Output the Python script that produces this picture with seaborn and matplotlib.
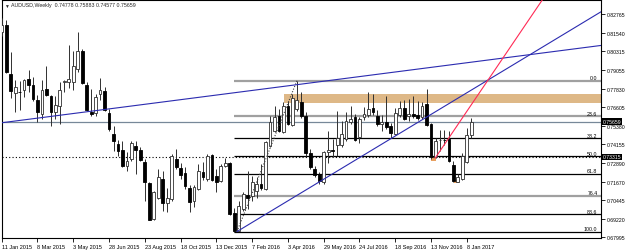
import numpy as np
import pandas as pd
import matplotlib
matplotlib.use('Agg')
import matplotlib.pyplot as plt
from matplotlib.patches import Rectangle
import seaborn as sns

# weekly AUDUSD bars, first bar = week of 11 Jan 2015
opens = [0.8160, 0.8205, 0.7881, 0.7755, 0.7764, 0.7775, 0.7848, 0.7808, 0.7709, 0.7616,
         0.7782, 0.7737, 0.7631, 0.7667, 0.7829, 0.7826, 0.7828, 0.7914, 0.8035, 0.7808,
         0.7631, 0.7623, 0.7748, 0.7768, 0.7623, 0.7484, 0.7417, 0.7380, 0.7274, 0.7318,
         0.7406, 0.7378, 0.7300, 0.7159, 0.6921, 0.7058, 0.7186, 0.7027, 0.7053, 0.7318,
         0.7257, 0.7225, 0.7126, 0.7042, 0.7120, 0.7234, 0.7186, 0.7345, 0.7208, 0.7174,
         0.7270, 0.7292, 0.6961, 0.6843, 0.6987, 0.7082, 0.7075, 0.7108, 0.7153, 0.7120,
         0.7402, 0.7505, 0.7601, 0.7499, 0.7667, 0.7543, 0.7649, 0.7693, 0.7601, 0.7358,
         0.7252, 0.7219, 0.7164, 0.7366, 0.7378, 0.7411, 0.7411, 0.7451, 0.7561, 0.7598,
         0.7462, 0.7594, 0.7609, 0.7654, 0.7601, 0.7550, 0.7565, 0.7537, 0.7484, 0.7609,
         0.7654, 0.7601, 0.7616, 0.7609, 0.7594, 0.7682, 0.7550, 0.7329, 0.7442, 0.7447,
         0.7451, 0.7278, 0.7168, 0.7186, 0.7296, 0.74778]
highs = [0.8250, 0.8240, 0.8024, 0.7841, 0.7836, 0.7846, 0.7909, 0.7861, 0.7742, 0.7843,
         0.7936, 0.7742, 0.7737, 0.7826, 0.7843, 0.8073, 0.8035, 0.8157, 0.8046, 0.7828,
         0.7782, 0.7748, 0.7852, 0.7793, 0.7649, 0.7535, 0.7446, 0.7439, 0.7366, 0.7439,
         0.7439, 0.7396, 0.7318, 0.7166, 0.7108, 0.7252, 0.7241, 0.7124, 0.7351, 0.7384,
         0.7292, 0.7263, 0.7146, 0.7146, 0.7285, 0.7296, 0.7351, 0.7351, 0.7252, 0.7285,
         0.7323, 0.7298, 0.6994, 0.7040, 0.7102, 0.7241, 0.7208, 0.7197, 0.7285, 0.7439,
         0.7605, 0.7671, 0.7649, 0.7693, 0.7704, 0.7748, 0.7836, 0.7764, 0.7629, 0.7384,
         0.7274, 0.7232, 0.7373, 0.7505, 0.7451, 0.7638, 0.7572, 0.7631, 0.7671, 0.7616,
         0.7594, 0.7660, 0.7760, 0.7748, 0.7642, 0.7609, 0.7733, 0.7557, 0.7654, 0.7704,
         0.7711, 0.7715, 0.7733, 0.7704, 0.7698, 0.7782, 0.7557, 0.7455, 0.7512, 0.7510,
         0.7503, 0.7307, 0.7219, 0.7358, 0.7521, 0.75883]
lows = [0.8130, 0.7887, 0.7720, 0.7629, 0.7644, 0.7729, 0.7762, 0.7704, 0.7561, 0.7583,
        0.7733, 0.7535, 0.7583, 0.7550, 0.7760, 0.7786, 0.7775, 0.7894, 0.7815, 0.7636,
        0.7606, 0.7601, 0.7711, 0.7638, 0.7505, 0.7373, 0.7340, 0.7268, 0.7241, 0.7305,
        0.7219, 0.7305, 0.7042, 0.6912, 0.6916, 0.7050, 0.6976, 0.6967, 0.7042, 0.7252,
        0.7186, 0.7120, 0.6969, 0.7002, 0.7113, 0.7179, 0.7173, 0.7173, 0.7102, 0.7166,
        0.7263, 0.6947, 0.6837, 0.6841, 0.6974, 0.6987, 0.7042, 0.7058, 0.7113, 0.7113,
        0.7396, 0.7499, 0.7497, 0.7490, 0.7543, 0.7537, 0.7638, 0.7590, 0.7340, 0.7252,
        0.7199, 0.7153, 0.7153, 0.7292, 0.7331, 0.7340, 0.7398, 0.7437, 0.7550, 0.7437,
        0.7424, 0.7576, 0.7594, 0.7609, 0.7537, 0.7505, 0.7517, 0.7455, 0.7477, 0.7596,
        0.7576, 0.7572, 0.7590, 0.7576, 0.7583, 0.7537, 0.7318, 0.7323, 0.7373, 0.7411,
        0.7300, 0.7164, 0.7166, 0.7179, 0.7292, 0.74577]
closes = [0.8205, 0.7896, 0.7770, 0.7793, 0.7760, 0.7841, 0.7808, 0.7715, 0.7627, 0.7775,
          0.7744, 0.7627, 0.7676, 0.7775, 0.7833, 0.7848, 0.7932, 0.8031, 0.7821, 0.7642,
          0.7616, 0.7727, 0.7777, 0.7644, 0.7517, 0.7439, 0.7373, 0.7274, 0.7307, 0.7424,
          0.7380, 0.7314, 0.7168, 0.6916, 0.7098, 0.7197, 0.7027, 0.7058, 0.7340, 0.7263,
          0.7212, 0.7137, 0.7035, 0.7133, 0.7241, 0.7197, 0.7340, 0.7181, 0.7168, 0.7274,
          0.7292, 0.6954, 0.6843, 0.7005, 0.7086, 0.7058, 0.7164, 0.7153, 0.7124, 0.7433,
          0.7561, 0.7594, 0.7505, 0.7671, 0.7550, 0.7720, 0.7711, 0.7601, 0.7358, 0.7263,
          0.7214, 0.7174, 0.7366, 0.7378, 0.7372, 0.7455, 0.7484, 0.7572, 0.7583, 0.7444,
          0.7583, 0.7616, 0.7649, 0.7627, 0.7550, 0.7565, 0.7533, 0.7490, 0.7621, 0.7654,
          0.7583, 0.7616, 0.7601, 0.7588, 0.7671, 0.7543, 0.7329, 0.7439, 0.7446, 0.7441,
          0.7307, 0.7174, 0.7197, 0.7340, 0.7480, 0.75659]

# price scale labels on the right (as shown by the terminal)
price_ticks = [0.82765, 0.81540, 0.80315, 0.79055, 0.77830, 0.76605, 0.75380,
               0.74155, 0.72890, 0.71670, 0.70445, 0.69220, 0.67995]
bid_price = 0.75659
level_price = 0.73315

# fibonacci retracement: Jan 2016 low -> Apr 2016 high
fib_low, fib_high = 0.6837, 0.7836
fib_low_bar, fib_high_bar = 52.6, 66.0
fib_ratios = [0.0, 23.6, 38.2, 50.0, 61.8, 76.4, 88.6, 100.0]

# hand-drawn objects (bar index, price)
upper_trend = [(0.0, 0.7558), (134.0, 0.8070)]
lower_trend = [(52.6, 0.6837), (134.0, 0.8293)]
red_trend = [(96.9, 0.7323), (125.0, 0.8552)]
zone_start, zone_lo, zone_hi = 63.1, 0.7690, 0.7748
marks = [(96.1, 0.7307, 0.7329), (101.1, 0.7160, 0.7177)]

header = 'AUDUSD,Weekly  0.74778 0.75883 0.74577 0.75659'

sns.set_style('white')
plt.rcParams['font.family'] = ['Liberation Sans', 'DejaVu Sans']

fig = plt.figure(figsize=(6.25, 2.51), dpi=100)
ax = fig.add_axes([1.7 / 625, 12.5 / 251, 599.3 / 625, 237.5 / 251])
XMAX = 134.0
ax.set_xlim(0.05, XMAX)
ax.set_ylim(0.6798, 0.8371)

o = np.array(opens); h = np.array(highs); l = np.array(lows); c = np.array(closes)
x = np.arange(len(o))
bull = c >= o

# zone + small marks
ax.add_patch(Rectangle((zone_start, zone_lo), XMAX - zone_start, zone_hi - zone_lo,
                       facecolor='#deb887', edgecolor='none', zorder=1))
for mx, lo, hi in marks:
    ax.add_patch(Rectangle((mx, lo), 1.0, hi - lo, facecolor='#e8a060',
                           edgecolor='none', zorder=1))

# horizontal lines
ax.axhline(bid_price, color='#778899', lw=0.9, zorder=2)
ax.axhline(level_price, color='black', lw=0.8, ls=(0, (1, 2)), zorder=2)

# fibo levels
fib_prices = [fib_high - r / 100 * (fib_high - fib_low) for r in fib_ratios]
for r, p in zip(fib_ratios, fib_prices):
    grey = r in (0.0, 23.6, 76.4)
    ax.hlines(p, 52.0, XMAX, color='#a0a0a0' if grey else 'black',
              lw=1.6 if grey else 0.9, zorder=2)
    ax.text(133.2, p + 0.0004, f'{r:.1f}', ha='right', va='bottom',
            fontsize=3.8, color='black', zorder=6)
ax.plot([fib_low_bar, fib_high_bar], [fib_low, fib_high], color='#404040',
        lw=0.8, ls=(0, (1, 1.5)), zorder=5)

# trend lines
for pts, col in [(upper_trend, '#2b2bb0'), (lower_trend, '#2b2bb0'), (red_trend, '#ff2a55')]:
    (x0, y0), (x1, y1) = pts
    ax.plot([x0, x1], [y0, y1], color=col, lw=0.8, zorder=5)

# candles
ax.vlines(x, l, h, color='#303030', lw=0.7, zorder=3)
ax.bar(x[bull], (c - o)[bull], bottom=o[bull], width=0.62, color='white',
       edgecolor='#303030', lw=0.6, zorder=4)
ax.bar(x[~bull], (o - c)[~bull], bottom=c[~bull], width=0.62, color='black',
       edgecolor='black', lw=0.6, zorder=4)

# axes
for s in ax.spines.values():
    s.set_color('black')
    s.set_linewidth(0.8)
ax.yaxis.tick_right()
ax.set_yticks(price_ticks, [f'{v:.5f}' for v in price_ticks])
ax.tick_params(axis='y', right=True, length=3, width=0.6, pad=1.0, labelsize=3.7,
               colors='black')

dates = pd.date_range('2015-01-11', periods=len(o), freq='7D')
xt = list(range(0, len(o), 8))
ax.set_xticks(xt, [f'{d.day} {d:%b %Y}' for d in dates[xt]])
ax.tick_params(axis='x', bottom=True, length=3, width=0.6, pad=1.5, labelsize=3.95,
               colors='black')
for lbl in ax.get_xticklabels():
    lbl.set_ha('left')

# highlighted price labels
for v in (bid_price, level_price):
    ax.text(1.003, v, f'{v:.5f}', transform=ax.get_yaxis_transform(), ha='left',
            va='center', fontsize=3.7, color='white', zorder=10, clip_on=False,
            bbox=dict(boxstyle='square,pad=0.15', facecolor='black', edgecolor='none'))

fig.text(4 / 625, 1 - 6 / 251, '▼', fontsize=3.5, va='center', ha='left')
fig.text(11 / 625, 1 - 6 / 251, header, fontsize=3.8, va='center', ha='left')

plt.savefig('out.png', dpi=100)
plt.close()
